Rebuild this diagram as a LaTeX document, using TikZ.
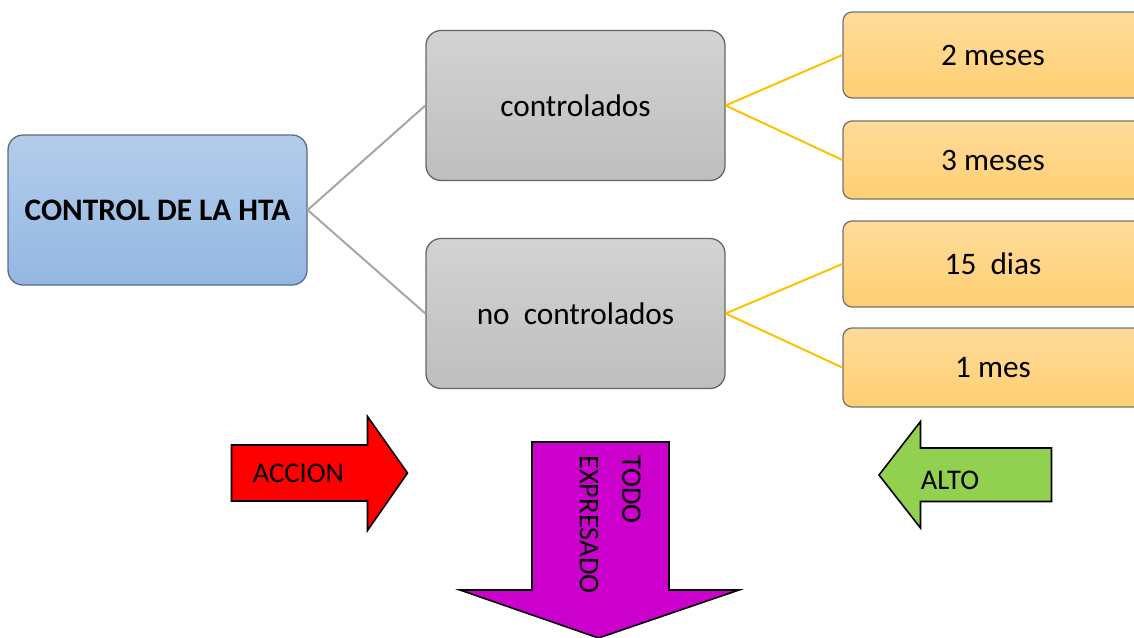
\documentclass[tikz,border=0pt]{standalone}
\usepackage{fontspec}
\setmainfont{Carlito}
\usepackage{tikz}

\definecolor{htablue1}{HTML}{B3CDEA}
\definecolor{htablue2}{HTML}{93B7E3}
\definecolor{htaborder}{HTML}{5E6B80}
\definecolor{ctrlgray1}{HTML}{D3D3D3}
\definecolor{ctrlgray2}{HTML}{BEBEBE}
\definecolor{mesorange1}{HTML}{FFDB9B}
\definecolor{mesorange2}{HTML}{FFCF72}
\definecolor{lineyellow}{HTML}{FFC000}
\definecolor{arrowgreen}{HTML}{92D050}
\definecolor{arrowmagenta}{HTML}{CC00CC}

\tikzset{
    mainbox/.style = {draw=black!60, line width=1.3pt, rounded corners=15pt,
        minimum width=299pt, minimum height=150pt, inner sep=0pt,
        font=\fontsize{31.3}{37}\selectfont},
    mesbox/.style = {draw=black!55, line width=1.3pt, rounded corners=9pt,
        minimum width=300pt, inner sep=0pt,
        top color=mesorange1, bottom color=mesorange2,
        font=\fontsize{31.3}{37}\selectfont},
    bigarrow/.style = {draw=black, line width=1.6pt, line join=miter},
    arrowtext/.style = {inner sep=0pt, font=\fontsize{28.5}{42.4}\selectfont}
}

\begin{document}
\begin{tikzpicture}[x=1pt, y=-1pt]
    \useasboundingbox (0, 0) rectangle (1134, 637);
    \clip (0, 0) rectangle (1134, 637);

    % main boxes
    \node[mainbox, draw=htaborder, top color=htablue1, bottom color=htablue2,
        font=\fontsize{31.3}{37}\selectfont\bfseries]
        (hta) at (157.5, 210) {CONTROL DE LA HTA};
    \node[mainbox, top color=ctrlgray1, bottom color=ctrlgray2]
        (ctrl) at (575.5, 105.5) {controlados};
    \node[mainbox, top color=ctrlgray1, bottom color=ctrlgray2]
        (noctrl) at (575.5, 313.5) {no\ \ controlados};

    % time boxes
    \node[mesbox, minimum height=86pt] (dosmeses) at (993, 55) {2 meses};
    \node[mesbox, minimum height=78pt] (tresmeses) at (993, 160) {3 meses};
    \node[mesbox, minimum height=86pt] (quincedias) at (993, 264) {15\ \ dias};
    \node[mesbox, minimum height=79pt] (unmes) at (993, 367.5) {1 mes};

    % connectors
    \draw[black!35, line width=2pt]
        (hta.east) -- (ctrl.west)
        (hta.east) -- (noctrl.west);
    \draw[lineyellow, line width=2pt]
        (ctrl.east) -- (dosmeses.west)
        (ctrl.east) -- (tresmeses.west)
        (noctrl.east) -- (quincedias.west)
        (noctrl.east) -- (unmes.west);

    % block arrows
    \draw[bigarrow, fill=red]
        (231.5, 445) -- (367.5, 445) -- (367.5, 416.5) -- (407.5, 473)
        -- (367.5, 530.5) -- (367.5, 501) -- (231.5, 501) -- cycle;
    \node[arrowtext] (accion) at (298.5, 473) {ACCION};

    \draw[bigarrow, fill=arrowmagenta]
        (532, 442) -- (669, 442) -- (669, 590) -- (739, 590)
        -- (598.5, 638) -- (460, 590) -- (532, 590) -- cycle;
    \node[arrowtext, rotate=-90, align=left, anchor=north west]
        (todo) at (641, 455) {TODO\\EXPRESADO};

    \draw[bigarrow, fill=arrowgreen]
        (1051.5, 448) -- (920.5, 448) -- (920.5, 421.5) -- (879, 475)
        -- (920.5, 528) -- (920.5, 501.5) -- (1051.5, 501.5) -- cycle;
    \node[arrowtext] (alto) at (950, 480) {ALTO};
\end{tikzpicture}
\end{document}
